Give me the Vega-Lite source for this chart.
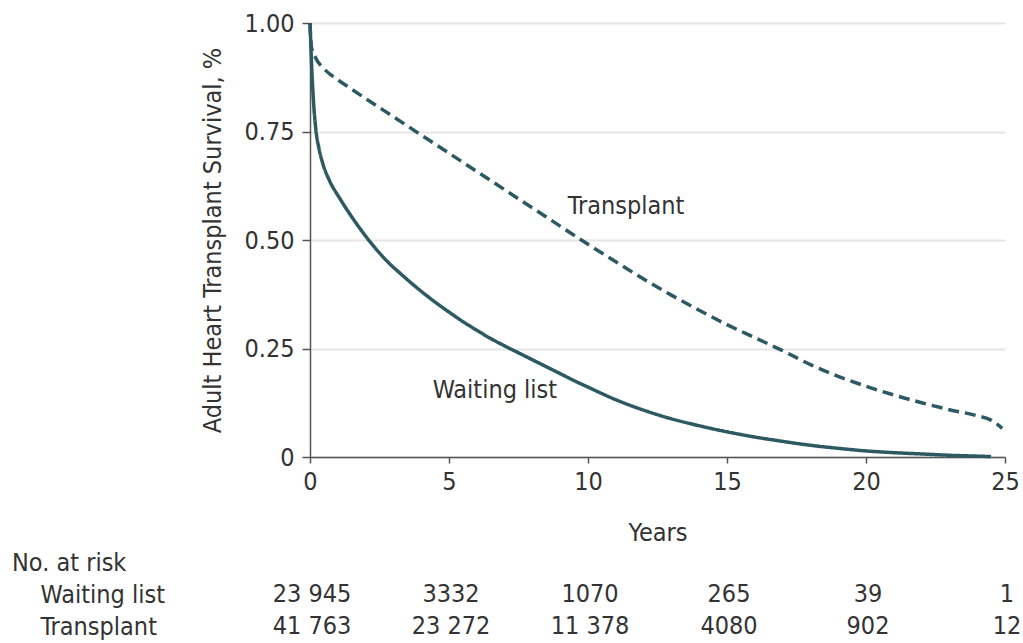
{
  "$schema": "https://vega.github.io/schema/vega-lite/v6.json",
  "padding": {"left": 12, "top": 11, "right": 4, "bottom": 0},
  "spacing": 6,
  "config": {
    "font": "DejaVu Sans Condensed, Liberation Sans Narrow, DejaVu Sans, sans-serif",
    "view": {"stroke": null},
    "axis": {
      "labelFontSize": 25,
      "titleFontSize": 25,
      "labelColor": "#333",
      "titleColor": "#333",
      "titleFontWeight": "normal",
      "domainColor": "#555",
      "domainWidth": 1.5,
      "tickColor": "#555",
      "tickWidth": 1.5
    },
    "title": {"fontSize": 25, "fontWeight": "normal", "color": "#333"}
  },
  "datasets": {
    "curves": [
      {"group": "Waiting list", "years": 0, "surv": 1.0},
      {"group": "Waiting list", "years": 0.03, "surv": 0.95},
      {"group": "Waiting list", "years": 0.06, "surv": 0.9},
      {"group": "Waiting list", "years": 0.12, "surv": 0.825},
      {"group": "Waiting list", "years": 0.21, "surv": 0.755},
      {"group": "Waiting list", "years": 0.32, "surv": 0.712},
      {"group": "Waiting list", "years": 0.47, "surv": 0.674},
      {"group": "Waiting list", "years": 0.7, "surv": 0.637},
      {"group": "Waiting list", "years": 1.08, "surv": 0.595},
      {"group": "Waiting list", "years": 1.4, "surv": 0.563},
      {"group": "Waiting list", "years": 1.86, "surv": 0.521},
      {"group": "Waiting list", "years": 2.3, "surv": 0.485},
      {"group": "Waiting list", "years": 2.76, "surv": 0.452},
      {"group": "Waiting list", "years": 3.3, "surv": 0.42},
      {"group": "Waiting list", "years": 3.96, "surv": 0.384},
      {"group": "Waiting list", "years": 4.5, "surv": 0.357},
      {"group": "Waiting list", "years": 5.0, "surv": 0.334},
      {"group": "Waiting list", "years": 5.5, "surv": 0.312},
      {"group": "Waiting list", "years": 6.0, "surv": 0.292},
      {"group": "Waiting list", "years": 6.5, "surv": 0.273},
      {"group": "Waiting list", "years": 7.0, "surv": 0.256},
      {"group": "Waiting list", "years": 7.5, "surv": 0.24},
      {"group": "Waiting list", "years": 8.0, "surv": 0.224},
      {"group": "Waiting list", "years": 8.5, "surv": 0.208},
      {"group": "Waiting list", "years": 9.0, "surv": 0.192},
      {"group": "Waiting list", "years": 9.5, "surv": 0.176},
      {"group": "Waiting list", "years": 10.0, "surv": 0.161},
      {"group": "Waiting list", "years": 11.0, "surv": 0.132},
      {"group": "Waiting list", "years": 12.0, "surv": 0.108},
      {"group": "Waiting list", "years": 13.0, "surv": 0.088},
      {"group": "Waiting list", "years": 14.0, "surv": 0.072},
      {"group": "Waiting list", "years": 15.0, "surv": 0.058},
      {"group": "Waiting list", "years": 16.0, "surv": 0.046},
      {"group": "Waiting list", "years": 17.0, "surv": 0.036},
      {"group": "Waiting list", "years": 18.0, "surv": 0.027},
      {"group": "Waiting list", "years": 19.0, "surv": 0.02},
      {"group": "Waiting list", "years": 20.0, "surv": 0.014},
      {"group": "Waiting list", "years": 21.0, "surv": 0.01},
      {"group": "Waiting list", "years": 22.0, "surv": 0.007},
      {"group": "Waiting list", "years": 23.0, "surv": 0.004},
      {"group": "Waiting list", "years": 24.0, "surv": 0.002},
      {"group": "Waiting list", "years": 24.5, "surv": 0.001},
      {"group": "Transplant", "years": 0, "surv": 1.0},
      {"group": "Transplant", "years": 0.05, "surv": 0.945},
      {"group": "Transplant", "years": 0.2, "surv": 0.92},
      {"group": "Transplant", "years": 0.5, "surv": 0.895},
      {"group": "Transplant", "years": 1.0, "surv": 0.869},
      {"group": "Transplant", "years": 1.3, "surv": 0.856},
      {"group": "Transplant", "years": 2.0, "surv": 0.826},
      {"group": "Transplant", "years": 3.0, "surv": 0.784},
      {"group": "Transplant", "years": 4.0, "surv": 0.742},
      {"group": "Transplant", "years": 5.0, "surv": 0.7},
      {"group": "Transplant", "years": 6.0, "surv": 0.658},
      {"group": "Transplant", "years": 7.0, "surv": 0.616},
      {"group": "Transplant", "years": 8.0, "surv": 0.574},
      {"group": "Transplant", "years": 9.0, "surv": 0.532},
      {"group": "Transplant", "years": 10.0, "surv": 0.49},
      {"group": "Transplant", "years": 11.0, "surv": 0.45},
      {"group": "Transplant", "years": 12.0, "surv": 0.41},
      {"group": "Transplant", "years": 13.0, "surv": 0.373},
      {"group": "Transplant", "years": 14.0, "surv": 0.338},
      {"group": "Transplant", "years": 15.0, "surv": 0.305},
      {"group": "Transplant", "years": 16.0, "surv": 0.275},
      {"group": "Transplant", "years": 17.0, "surv": 0.245},
      {"group": "Transplant", "years": 18.0, "surv": 0.213},
      {"group": "Transplant", "years": 19.0, "surv": 0.186},
      {"group": "Transplant", "years": 20.0, "surv": 0.163},
      {"group": "Transplant", "years": 21.0, "surv": 0.143},
      {"group": "Transplant", "years": 22.0, "surv": 0.125},
      {"group": "Transplant", "years": 23.0, "surv": 0.109},
      {"group": "Transplant", "years": 24.0, "surv": 0.095},
      {"group": "Transplant", "years": 24.5, "surv": 0.085},
      {"group": "Transplant", "years": 24.9, "surv": 0.066}
    ],
    "labels": [
      {"label": "Transplant", "years": 11.37, "surv": 0.578},
      {"label": "Waiting list", "years": 6.65, "surv": 0.154}
    ],
    "risk": [
      {"group": "Waiting list", "years": 0, "n": "23 945"},
      {"group": "Waiting list", "years": 5, "n": "3332"},
      {"group": "Waiting list", "years": 10, "n": "1070"},
      {"group": "Waiting list", "years": 15, "n": "265"},
      {"group": "Waiting list", "years": 20, "n": "39"},
      {"group": "Waiting list", "years": 25, "n": "1"},
      {"group": "Transplant", "years": 0, "n": "41 763"},
      {"group": "Transplant", "years": 5, "n": "23 272"},
      {"group": "Transplant", "years": 10, "n": "11 378"},
      {"group": "Transplant", "years": 15, "n": "4080"},
      {"group": "Transplant", "years": 20, "n": "902"},
      {"group": "Transplant", "years": 25, "n": "12"}
    ]
  },
  "vconcat": [
    {
      "width": 695,
      "height": 434,
      "layer": [
        {
          "data": {"name": "curves"},
          "mark": {"type": "line", "strokeWidth": 3.5, "color": "#2d5a62", "interpolate": "monotone"},
          "encoding": {
            "x": {
              "field": "years", "type": "quantitative",
              "scale": {"domain": [0, 25], "nice": false},
              "axis": {"title": "Years", "values": [0, 5, 10, 15, 20, 25], "grid": false, "labelFlush": false, "tickSize": 6, "labelPadding": 6, "titlePadding": 26}
            },
            "y": {
              "field": "surv", "type": "quantitative",
              "scale": {"domain": [0, 1], "nice": false},
              "axis": {
                "title": "Adult Heart Transplant Survival, %",
                "values": [0, 0.25, 0.5, 0.75, 1],
                "labelExpr": "datum.value == 0 ? '0' : format(datum.value, '.2f')",
                "grid": true, "gridColor": "#e6e6e6", "gridWidth": 2,
                "tickSize": 8, "labelPadding": 8, "titlePadding": 18
              }
            },
            "strokeDash": {
              "field": "group", "type": "nominal",
              "scale": {"domain": ["Waiting list", "Transplant"], "range": [[1, 0], [11, 6]]},
              "legend": null
            }
          }
        },
        {
          "data": {"name": "labels"},
          "mark": {"type": "text", "fontSize": 25, "color": "#333"},
          "encoding": {
            "x": {"field": "years", "type": "quantitative"},
            "y": {"field": "surv", "type": "quantitative"},
            "text": {"field": "label"}
          }
        }
      ]
    },
    {
      "width": 695,
      "height": 64,
      "data": {"name": "risk"},
      "title": {"text": "No. at risk", "anchor": "start", "frame": "bounds", "dx": -28, "offset": 2},
      "mark": {"type": "text", "fontSize": 25, "color": "#333", "dx": 2},
      "encoding": {
        "x": {"field": "years", "type": "quantitative", "scale": {"domain": [0, 25], "nice": false}, "axis": null},
        "y": {
          "field": "group", "type": "nominal", "sort": ["Waiting list", "Transplant"],
          "scale": {"paddingInner": 0, "paddingOuter": 0},
          "axis": {"title": null, "domain": false, "ticks": false, "labelAlign": "left", "labelPadding": 270}
        },
        "text": {"field": "n"}
      }
    }
  ]
}
